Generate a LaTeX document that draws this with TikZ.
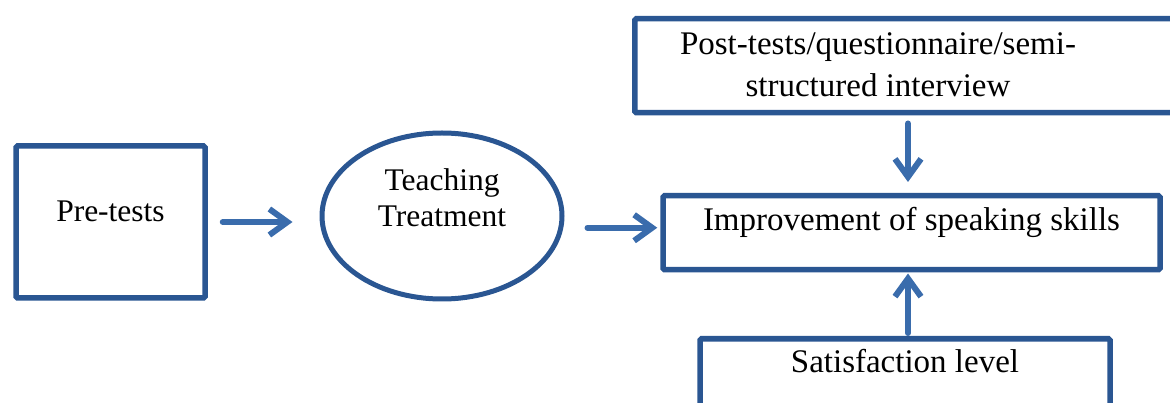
\documentclass[tikz,border=0pt]{standalone}
\usepackage{fontspec}
\setmainfont{Liberation Serif}
\usetikzlibrary{arrows.meta,shapes.geometric}
\definecolor{boxblue}{RGB}{42,86,146}
\definecolor{arrblue}{RGB}{58,108,172}
\tikzset{
  boxshape/.style={draw=boxblue, line width=5.5pt, rectangle, rounded corners=1.5pt, inner sep=0pt, fill=white},
  bigtext/.style={font=\fontsize{33}{42}\selectfont},
  midtext/.style={font=\fontsize{31.5}{36}\selectfont},
  arr/.style={draw=arrblue, line width=6pt, line cap=round, line join=round,
    -{Straight Barb[length=18pt, width=26pt, line width=6pt]}},
}
\begin{document}
\begin{tikzpicture}[x=1pt,y=-1pt]
\useasboundingbox (0,0) rectangle (1170,403);
% Pre-tests box
\node[boxshape, midtext, minimum width=189pt, text height=76pt, text depth=76pt] (pre) at (110.5,222) {Pre-tests};
% Teaching Treatment ellipse
\node[draw=boxblue, line width=5pt, ellipse, inner sep=0pt, minimum width=240pt, minimum height=166pt] (treat) at (442,216) {};
\node[midtext, align=center, anchor=base] (treattext) at (442,227) {Teaching\\Treatment};
% Improvement box
\node[boxshape, bigtext, anchor=north, minimum width=497pt, text height=35pt, text depth=39pt] (imp) at (911.5,193) {Improvement of speaking skills};
% Post-tests box
\node[boxshape, anchor=north west, minimum width=560pt, minimum height=94pt] (post) at (632,16) {};
\node[bigtext, align=center, anchor=base] (posttext) at (878,97) {Post-tests/questionnaire/semi-\\structured interview};
% Satisfaction box
\node[boxshape, bigtext, anchor=north, minimum width=410pt, text height=34pt, text depth=70pt] (sat) at (905,336) {Satisfaction level};
% Connectors
\draw[arr, shorten <=15pt, shorten >=27pt] (pre.east) -- (pre.east -| treat.west);
\draw[arr, shorten <=23pt, shorten >=3pt] ([yshift=5pt]imp.west -| treat.east) -- ([yshift=5pt]imp.west);
\draw[arr, shorten <=8pt, shorten >=11pt] ([xshift=-3.5pt]post.south -| imp.north) -- ([xshift=-3.5pt]imp.north);
\draw[arr, shorten <=3pt, shorten >=1pt] ([xshift=3pt]sat.north) -- ([xshift=3pt]sat.north |- imp.south);
\end{tikzpicture}
\end{document}
